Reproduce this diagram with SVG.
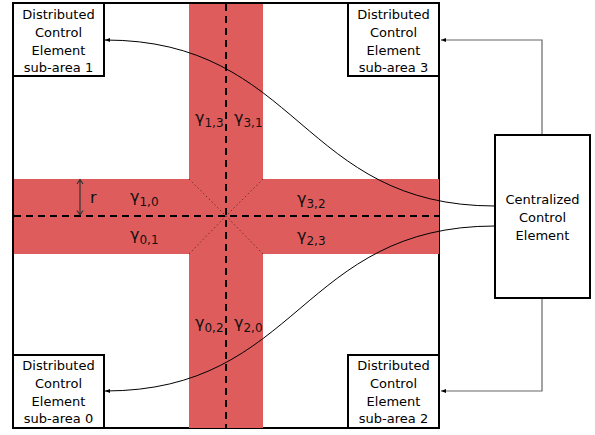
<svg xmlns="http://www.w3.org/2000/svg" width="595" height="435" viewBox="0 0 595 435">
<style>
.box{fill:#fff;stroke:#000;stroke-width:2}
.t{font-family:"DejaVu Sans",sans-serif;font-size:13px;fill:#000;text-anchor:middle}
.g{font-family:"DejaVu Sans",sans-serif;font-size:16px;fill:#111}
.s{font-size:12px}
.band{fill:#df5c5c}
.dash{stroke:#000;stroke-width:2;stroke-dasharray:7,5;fill:none}
.dot{stroke:#7a2a2a;stroke-width:1;stroke-dasharray:1.5,2.5;fill:none}
.c{fill:none;stroke:#000;stroke-width:1}
.e{fill:none;stroke:#666;stroke-width:1.2}
</style>
<defs>
<marker id="ah" markerWidth="6" markerHeight="6" refX="5" refY="3" orient="auto" markerUnits="userSpaceOnUse">
<path d="M0,1 L5,3 L0,5 z" fill="#000"/>
</marker>
</defs>
<rect x="0" y="0" width="595" height="435" fill="#fff"/>
<g id="area">
<rect x="13" y="3" width="426" height="425" fill="#fff" stroke="#000" stroke-width="2"/>
<rect class="band" x="14" y="179" width="425" height="75"/>
<rect class="band" x="189" y="4" width="74" height="424"/>
<path class="dot" d="M189,179 L226,216 M263,179 L226,216 M189,254 L226,216 M263,254 L226,216"/>
<path class="dash" d="M226,4 V428 M14,216 H439"/>
<path d="M80,180 V215 M77,184 L80,179.5 L83,184 M77,210.5 L80,215 L83,210.5" fill="none" stroke="#333" stroke-width="1.2"/>
<text class="g" x="90" y="203">r</text>
<text class="g" x="195" y="123">γ<tspan class="s" dy="4">1,3</tspan></text>
<text class="g" x="234" y="123">γ<tspan class="s" dy="4">3,1</tspan></text>
<text class="g" x="130" y="202">γ<tspan class="s" dy="4">1,0</tspan></text>
<text class="g" x="130" y="240">γ<tspan class="s" dy="4">0,1</tspan></text>
<text class="g" x="297" y="204">γ<tspan class="s" dy="4">3,2</tspan></text>
<text class="g" x="297" y="241">γ<tspan class="s" dy="4">2,3</tspan></text>
<text class="g" x="195" y="328">γ<tspan class="s" dy="4">0,2</tspan></text>
<text class="g" x="234" y="328">γ<tspan class="s" dy="4">2,0</tspan></text>
</g>
<g id="connectors">
<path class="c" d="M495,206 C300,206 300,40 105,40" marker-end="url(#ah)"/>
<path class="c" d="M495,226 C300,226 300,391 105,391" marker-end="url(#ah)"/>
<path class="e" d="M542,135 V40 H441" marker-end="url(#ah)"/>
<path class="e" d="M542,298 V391 H441" marker-end="url(#ah)"/>
</g>
<g id="sub1">
<rect class="box" x="13" y="3" width="91" height="73"/>
<text class="t" x="58.5" y="19">Distributed</text>
<text class="t" x="58.5" y="37">Control</text>
<text class="t" x="58.5" y="55">Element</text>
<text class="t" x="58.5" y="72">sub-area 1</text>
</g>
<g id="sub3">
<rect class="box" x="348" y="3" width="91" height="73"/>
<text class="t" x="393.5" y="19">Distributed</text>
<text class="t" x="393.5" y="37">Control</text>
<text class="t" x="393.5" y="55">Element</text>
<text class="t" x="393.5" y="72">sub-area 3</text>
</g>
<g id="sub0">
<rect class="box" x="13" y="355" width="91" height="73"/>
<text class="t" x="58.5" y="370">Distributed</text>
<text class="t" x="58.5" y="388">Control</text>
<text class="t" x="58.5" y="406">Element</text>
<text class="t" x="58.5" y="423">sub-area 0</text>
</g>
<g id="sub2">
<rect class="box" x="348" y="355" width="91" height="73"/>
<text class="t" x="393.5" y="370">Distributed</text>
<text class="t" x="393.5" y="388">Control</text>
<text class="t" x="393.5" y="406">Element</text>
<text class="t" x="393.5" y="423">sub-area 2</text>
</g>
<g id="central">
<rect class="box" x="495" y="135" width="95" height="163"/>
<text class="t" x="542.5" y="204">Centralized</text>
<text class="t" x="542.5" y="222">Control</text>
<text class="t" x="542.5" y="240">Element</text>
</g>
</svg>
